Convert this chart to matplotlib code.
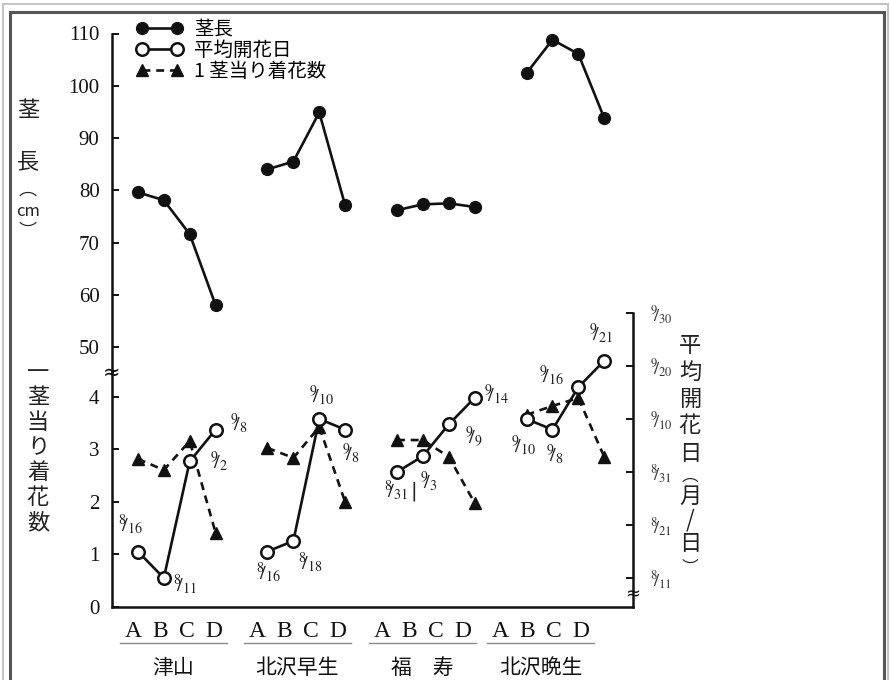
import matplotlib
matplotlib.use("Agg")
import matplotlib.pyplot as plt
from matplotlib.lines import Line2D
from matplotlib.patches import Rectangle

plt.rcParams['font.family'] = ['Noto Sans CJK JP', 'DejaVu Sans']
plt.rcParams['mathtext.fontset'] = 'stix'

# ---- data ---------------------------------------------------------------
cultivars = ['津山', '北沢早生', '福　寿', '北沢晩生']
treatments = ['A', 'B', 'C', 'D']

# 茎長 (cm)
stem_length = [
    [79.6, 78.1, 71.6, 58.0],
    [84.0, 85.5, 94.9, 77.1],
    [76.2, 77.3, 77.5, 76.8],
    [102.4, 108.8, 106.1, 93.8],
]
# 平均開花日 (月/日)
flower_date = [
    ['8/16', '8/11', '9/2', '9/8'],
    ['8/16', '8/18', '9/10', '9/8'],
    ['8/31', '9/3', '9/9', '9/14'],
    ['9/10', '9/8', '9/16', '9/21'],
]
# 1茎当り着花数
flowers_per_stem = [
    [2.82, 2.61, 3.16, 1.41],
    [3.03, 2.84, 3.43, 2.00],
    [3.18, 3.18, 2.86, 1.98],
    [3.66, 3.83, 3.98, 2.86],
]
stem_ticks = [50, 60, 70, 80, 90, 100, 110]
count_ticks = [0, 1, 2, 3, 4]
date_ticks = ['8/11', '8/21', '8/31', '9/10', '9/20', '9/30']

# ---- helpers ------------------------------------------------------------
W, H = 890, 680


def day_index(md):
    m, d = md.split('/')
    return int(d) if m == '8' else 31 + int(d)


def frac(md):
    m, d = md.split('/')
    return r'$^{%s}\!\!/_{%s}$' % (m, d)


def rect(l, t, r, b):
    return [l / W, 1 - b / H, (r - l) / W, (b - t) / H]


def xpos(g, i):
    return 5 * g + i


SERIF = 'Liberation Serif'
XLIM = (-1.0, 19.11)

fig = plt.figure(figsize=(W / 100, H / 100), dpi=100)

# page frame
fig.add_artist(Rectangle((3 / W, -0.1), (W - 5) / W, 1.1 - 4 / H, transform=fig.transFigure,
                         fill=False, ec='#c4c4c4', lw=1.5))
fig.add_artist(Rectangle((10 / W, -0.1), 874 / W, 1.1 - 12 / H, transform=fig.transFigure,
                         fill=False, ec='#555555', lw=2.2))

ax_bot = fig.add_axes(rect(112, 372, 633, 607))
ax_day = fig.add_axes(rect(112, 313, 633, 607))
ax_top = fig.add_axes(rect(112, 33.5, 633, 372))

for ax in (ax_top, ax_bot, ax_day):
    ax.patch.set_visible(False)
    ax.set_xlim(*XLIM)
    for s in ax.spines.values():
        s.set_visible(False)
        s.set_linewidth(1.8)
        s.set_color('#111111')
    ax.tick_params(direction='in', length=5, width=1.4, colors='#111111',
                   labelsize=15)

# upper axis: stem length
ax_top.set_ylim(45.22, 110)
ax_top.spines['left'].set_visible(True)
ax_top.set_yticks(stem_ticks)
ax_top.set_yticklabels([str(v) for v in stem_ticks], family=SERIF, fontsize=15)
ax_top.tick_params(axis='y', pad=9)
ax_top.set_xticks([])

# lower axis: flowers per stem
ax_bot.set_ylim(0, 4.476)
ax_bot.spines['left'].set_visible(True)
ax_bot.spines['bottom'].set_visible(True)
ax_bot.set_yticks(count_ticks)
ax_bot.set_yticklabels([str(v) for v in count_ticks], family=SERIF, fontsize=15)
ax_bot.tick_params(axis='y', pad=9)

# treatment letters under each cultivar
letter_start = [-0.19, 4.59, 9.42, 13.98]
letter_step = 1.04
letter_x = [s + letter_step * i for s in letter_start for i in range(4)]
ax_bot.set_xticks(letter_x)
ax_bot.set_xticklabels(treatments * 4, family=SERIF, fontsize=17)
ax_bot.tick_params(axis='x', length=0, pad=10)

# right axis: mean flowering date
ax_day.set_ylim(5.53, 61)
ax_day.spines['right'].set_visible(True)
ax_day.yaxis.tick_right()
ax_day.set_yticks([day_index(d) for d in date_ticks])
ax_day.set_yticklabels([frac(d) for d in date_ticks], fontsize=13, color='#333333')
ax_day.tick_params(axis='y', pad=12)
ax_day.set_xticks([])

# ---- series -------------------------------------------------------------
for g in range(4):
    xs = [xpos(g, i) for i in range(4)]
    ax_top.plot(xs, stem_length[g], '-', color='#111111', lw=1.9,
                marker='o', ms=8.5, mfc='#111111', mec='#111111')
    ax_bot.plot(xs, flowers_per_stem[g], color='#111111', lw=1.9,
                ls=(0, (3, 2.2)), marker='^', ms=8.5, mfc='#111111', mec='#111111')
    ax_day.plot(xs, [day_index(d) for d in flower_date[g]], '-', color='#111111',
                lw=1.9, marker='o', ms=9, mfc='white', mec='#111111', mew=1.8, zorder=5)

# date annotations (offsets in pixels)
label_offsets = [
    [(-7, 27), (21, -7), (29, 0), (23, 6)],
    [(1, -21), (17, -22), (2, 23), (6, -24)],
    [(-1, -19), (6, -25), (25, -13), (22, 3)],
    [(-3, -27), (2, -25), (-27, 12), (-3, 27)],
]
for g in range(4):
    for i in range(4):
        d = flower_date[g][i]
        ax_day.annotate(frac(d), (xpos(g, i), day_index(d)),
                        xytext=label_offsets[g][i], textcoords='offset pixels',
                        ha='center', va='center', fontsize=14.5, color='#222222')
# leader between the two 福寿 labels
ax_day.annotate('|', (xpos(2, 1), day_index(flower_date[2][1])),
                xytext=(-9, -35), textcoords='offset pixels', ha='center', va='center',
                fontsize=14, family='DejaVu Sans', color='#222222')

# axis break marks
fig.text(112 / W, 1 - 373 / H, '≈', ha='center', va='center', fontsize=15,
         family='DejaVu Sans', color='#111111')
fig.text(633 / W, 1 - 594 / H, '≈', ha='center', va='center', fontsize=13,
         family='DejaVu Sans', color='#111111')

# underlines and cultivar names
for g, name in enumerate(cultivars):
    x0 = letter_start[g]
    x1 = letter_start[g] + 3 * letter_step
    ax_bot.add_line(Line2D([x0 - 0.5, x1 + 0.5], [-0.68, -0.68], color='#8a8a8a', lw=1.0,
                           clip_on=False))
    ax_bot.text((x0 + x1) / 2, -1.17, name, ha='center', va='center', fontsize=15,
                color='#111111')


# vertical axis titles
def vertical(chars, x, y0, step, size):
    for k, ch in enumerate(chars):
        fig.text(x / W, 1 - (y0 + k * step) / H, ch, ha='center', va='center',
                 fontsize=size, color='#222222')


vertical(['茎'], 28, 110, 0, 16)
vertical(['長'], 28, 162, 0, 16)
vertical(['︵'], 28, 190, 0, 13)
fig.text(28 / W, 1 - 212 / H, 'cm', ha='center', va='center', fontsize=12, color='#222222')
vertical(['︶'], 28, 232, 0, 13)

vertical(list('一茎当り着花数'), 38, 372, 25.2, 16)

vertical(['平', '均', '開', '花', '日'], 690, 345, 27, 16)
vertical(['︵'], 690, 476, 0, 12)
vertical(['月'], 690, 496, 0, 16)
vertical(['/'], 690, 520, 0, 16)
vertical(['日'], 690, 544, 0, 16)
vertical(['︶'], 690, 568, 0, 12)

# legend
handles = [
    Line2D([], [], color='#111111', lw=1.9, marker='o', ms=8.5, mfc='#111111'),
    Line2D([], [], color='#111111', lw=1.9, marker='o', ms=9, mfc='white', mew=1.8),
    Line2D([], [], color='#111111', lw=1.9, ls=(0, (3, 2.2)), marker='^', ms=8.5,
           mfc='#111111'),
]
fig.legend(handles, ['茎長', '平均開花日', '1 茎当り着花数'], loc='upper left',
           bbox_to_anchor=(136 / W, 1 - 19 / H), frameon=False, numpoints=2,
           handlelength=2.4, fontsize=14, labelspacing=0.0, handletextpad=0.6,
           borderaxespad=0, borderpad=0)

fig.savefig('out.png', dpi=100)
